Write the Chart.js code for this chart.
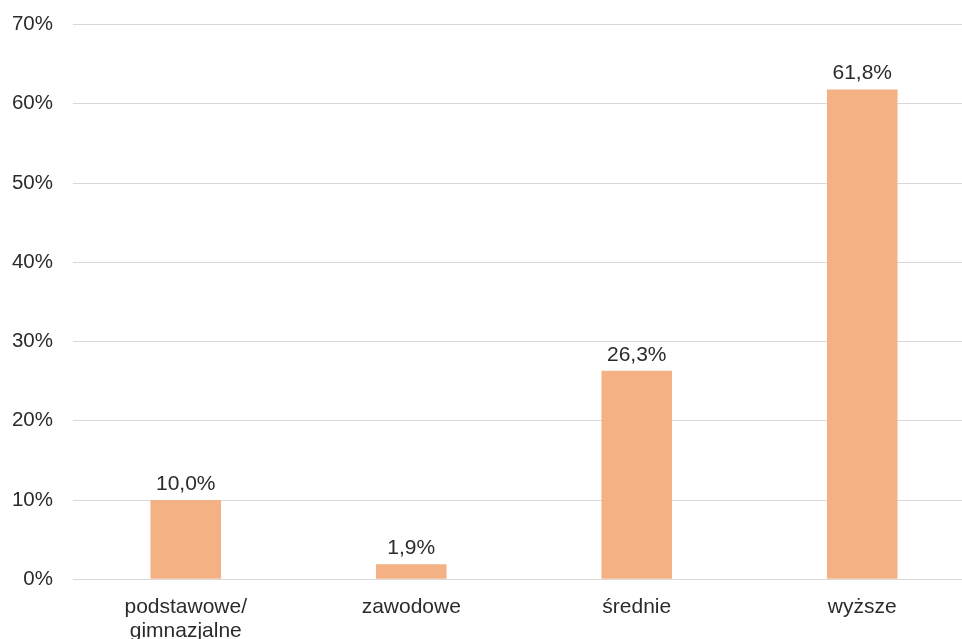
<!DOCTYPE html>
<html><head><meta charset="utf-8">
<script src="https://cdn.jsdelivr.net/npm/chart.js@4/dist/chart.umd.min.js"></script>
<style>
html,body{margin:0;padding:0;background:#fff;overflow:hidden;}
#wrap{width:975px;height:639px;position:relative;}
</style></head>
<body>
<div id="wrap"><canvas id="c"></canvas></div>
<script>
const categories = [['podstawowe/','gimnazjalne'], 'zawodowe', 'średnie', 'wyższe'];
const values = [10.0, 1.9, 26.3, 61.8];
const valueLabels = ['10,0%', '1,9%', '26,3%', '61,8%'];
const yTicks = [0, 10, 20, 30, 40, 50, 60, 70];

const FONT = 'Liberation Sans, Arial, sans-serif';
const TXT = '#2b2b2b';

const labelPlugin = {
  id: 'valLabels',
  afterDatasetsDraw(chart) {
    const ctx = chart.ctx;
    const meta = chart.getDatasetMeta(0);
    ctx.save();
    ctx.font = '21px ' + FONT;
    ctx.fillStyle = TXT;
    ctx.textAlign = 'center';
    ctx.textBaseline = 'alphabetic';
    meta.data.forEach((bar, i) => {
      ctx.fillText(valueLabels[i], bar.x, bar.y - 10);
    });
    ctx.restore();
  }
};

new Chart(document.getElementById('c'), {
  type: 'bar',
  data: {
    labels: categories,
    datasets: [{
      data: values,
      backgroundColor: '#F4B183',
      borderWidth: 0,
      barPercentage: 1,
      categoryPercentage: 0.313
    }]
  },
  options: {
    responsive: true,
    maintainAspectRatio: false,
    animation: false,
    layout: { padding: { top: 24.5, right: 0, left: 0, bottom: 0 } },
    plugins: { legend: { display: false }, tooltip: { enabled: false } },
    scales: {
      x: {
        grid: { display: false, drawTicks: false },
        border: { color: '#d9d9d9', width: 1 },
        ticks: { color: TXT, font: { family: FONT, size: 21, lineHeight: 1.15 }, padding: 16, maxRotation: 0, autoSkip: false },
        afterFit(s) { s.height = 59.7; s.paddingLeft = 0; s.paddingRight = 0; }
      },
      y: {
        min: 0, max: 70,
        afterBuildTicks(s) { s.ticks = yTicks.map(v => ({ value: v })); },
        grid: { color: '#d9d9d9', drawTicks: false },
        border: { display: false },
        ticks: { color: TXT, font: { family: FONT, size: 20.5 }, padding: 20, callback: v => v + '%' },
        afterFit(s) { s.width = 73; s.paddingTop = 0; s.paddingBottom = 0; }
      }
    }
  },
  plugins: [labelPlugin]
});
</script>
</body></html>
